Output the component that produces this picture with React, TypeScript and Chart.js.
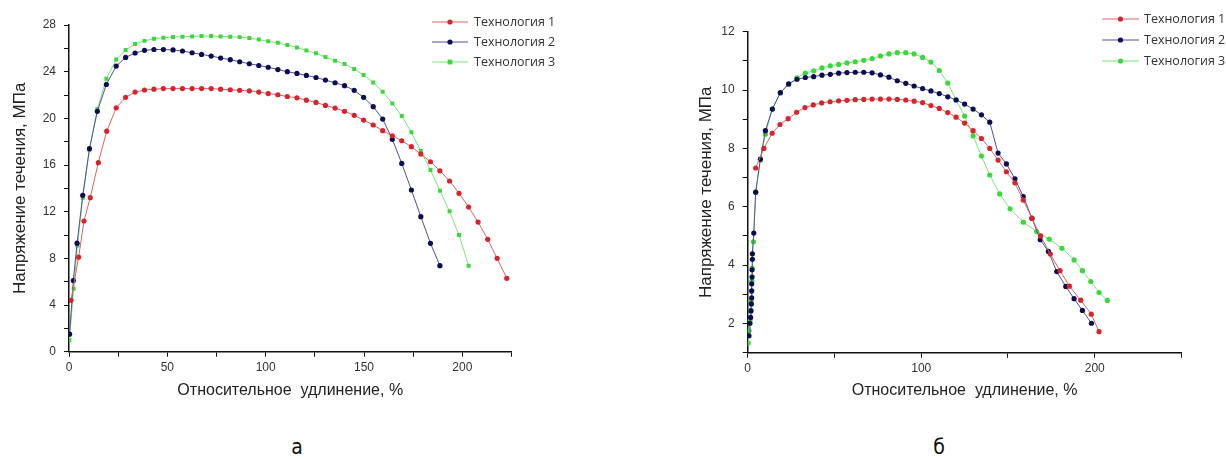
import React, { useEffect, useRef } from 'react';
import { Chart, registerables } from 'chart.js';

Chart.register(...registerables);

// ---------- Data ----------
const seriesLabels = ['Технология 1', 'Технология 2', 'Технология 3'];

// Chart "а"
const aRedX = [1.0, 4.9, 7.6, 10.8, 14.9, 19.2, 24.0, 28.8, 33.6, 38.4, 43.2, 48.0, 52.9, 57.7, 62.6, 67.4, 72.3, 77.1, 82.0, 86.8, 91.7, 96.5, 101.3, 106.2, 111.0, 115.9, 120.7, 125.6, 130.4, 135.3, 140.1, 145.0, 149.8, 154.7, 159.5, 164.4, 169.2, 174.1, 178.9, 183.8, 188.6, 193.5, 198.3, 203.2, 208.0, 212.9, 217.7, 222.6];
const aRedY = [4.4, 8.1, 11.2, 13.2, 16.2, 18.9, 20.9, 21.8, 22.25, 22.43, 22.5, 22.55, 22.55, 22.55, 22.55, 22.55, 22.55, 22.5, 22.45, 22.4, 22.35, 22.25, 22.12, 22.02, 21.87, 21.76, 21.56, 21.36, 21.11, 20.88, 20.6, 20.26, 19.85, 19.43, 18.94, 18.51, 18.08, 17.57, 16.94, 16.28, 15.51, 14.63, 13.57, 12.4, 11.11, 9.63, 8.0, 6.29];

const aBlueX = [0.3, 2.2, 4.1, 7.0, 10.4, 14.4, 19.0, 24.0, 28.8, 33.6, 38.4, 43.2, 48.0, 52.9, 57.7, 62.6, 67.4, 72.3, 77.1, 82.0, 86.8, 91.7, 96.5, 101.3, 106.2, 111.0, 115.9, 120.7, 125.6, 130.4, 135.3, 140.1, 145.0, 149.8, 154.7, 159.5, 164.4, 169.2, 174.1, 178.9, 183.8, 188.6];
const aBlueY = [1.5, 6.1, 9.3, 13.4, 17.4, 20.6, 22.9, 24.48, 25.22, 25.6, 25.83, 25.9, 25.9, 25.86, 25.77, 25.62, 25.48, 25.34, 25.17, 25.03, 24.85, 24.68, 24.53, 24.38, 24.18, 24.0, 23.85, 23.68, 23.5, 23.28, 23.05, 22.8, 22.4, 21.8, 21.0, 19.94, 18.2, 16.14, 13.86, 11.57, 9.29, 7.37];

const aGreenX = [0.2, 2.4, 4.3, 7.0, 10.4, 14.4, 19.0, 24.0, 28.8, 33.6, 38.4, 43.2, 48.0, 52.9, 57.7, 62.6, 67.4, 72.3, 77.1, 82.0, 86.8, 91.7, 96.5, 101.3, 106.2, 111.0, 115.9, 120.7, 125.6, 130.4, 135.3, 140.1, 145.0, 149.8, 154.7, 159.5, 164.4, 169.2, 174.1, 178.9, 183.8, 188.6, 193.5, 198.3, 203.2];
const aGreenY = [1.0, 5.4, 9.1, 13.2, 17.3, 20.8, 23.4, 25.05, 25.85, 26.37, 26.64, 26.83, 26.91, 26.97, 27.0, 27.02, 27.05, 27.05, 27.02, 27.0, 26.96, 26.88, 26.75, 26.6, 26.47, 26.28, 26.08, 25.82, 25.57, 25.25, 24.94, 24.65, 24.22, 23.71, 23.08, 22.28, 21.28, 20.2, 18.8, 17.2, 15.57, 13.8, 12.03, 10.0, 7.37];

// Chart "б"
const bRedX = [4.6, 9.3, 14.1, 18.6, 23.3, 28.2, 33.0, 37.8, 42.6, 47.5, 52.4, 57.2, 62.0, 66.9, 71.7, 76.5, 81.4, 86.2, 91.1, 95.9, 100.8, 105.6, 110.4, 115.3, 120.1, 125.0, 129.9, 134.7, 139.5, 144.3, 149.1, 154.0, 158.8, 163.8, 168.8, 174.4, 180.0, 185.4, 191.9, 198.0, 202.5];
const bRedY = [7.33, 8.0, 8.52, 8.82, 9.02, 9.24, 9.4, 9.49, 9.56, 9.6, 9.63, 9.65, 9.67, 9.68, 9.69, 9.69, 9.69, 9.68, 9.66, 9.62, 9.57, 9.47, 9.37, 9.23, 9.07, 8.87, 8.61, 8.34, 8.0, 7.6, 7.2, 6.82, 6.23, 5.6, 5.0, 4.38, 3.81, 3.28, 2.8, 2.32, 1.72];

const bBlueX = [0.75, 1.3, 1.7, 1.9, 2.1, 2.3, 2.3, 2.3, 2.5, 2.5, 2.7, 2.7, 3.5, 4.6, 7.3, 10.2, 14.2, 18.8, 23.6, 28.4, 33.2, 38.0, 42.8, 47.6, 52.4, 57.2, 62.0, 66.9, 71.7, 76.5, 81.4, 86.2, 91.1, 95.9, 100.8, 105.6, 110.4, 115.3, 120.1, 125.0, 129.9, 134.7, 139.5, 144.3, 149.1, 154.0, 158.8, 163.8, 168.6, 173.3, 178.1, 183.3, 188.1, 192.9, 198.1];
const bBlueY = [1.58, 2.01, 2.21, 2.43, 2.67, 2.88, 3.12, 3.36, 3.59, 3.84, 4.2, 4.39, 5.1, 6.5, 7.63, 8.61, 9.35, 9.91, 10.21, 10.37, 10.43, 10.46, 10.51, 10.54, 10.58, 10.6, 10.61, 10.61, 10.59, 10.52, 10.44, 10.32, 10.23, 10.14, 10.05, 9.97, 9.88, 9.77, 9.66, 9.52, 9.35, 9.15, 8.9, 7.84, 7.47, 6.96, 6.35, 5.61, 4.87, 4.47, 3.78, 3.27, 2.85, 2.45, 2.01];

const bGreenX = [0.3, 0.8, 1.3, 1.7, 2.0, 2.2, 2.4, 2.6, 3.3, 4.6, 7.3, 10.2, 14.2, 18.8, 23.6, 28.4, 33.2, 38.0, 42.8, 47.6, 52.4, 57.2, 62.0, 66.9, 71.7, 76.5, 81.4, 86.2, 91.1, 95.9, 100.8, 105.6, 110.4, 115.3, 120.1, 125.0, 129.9, 134.7, 139.5, 145.2, 151.2, 158.9, 166.5, 173.8, 181.1, 188.1, 192.9, 197.7, 202.5, 207.3];
const bGreenY = [1.33, 1.75, 2.1, 2.45, 2.8, 3.1, 3.45, 3.9, 4.8, 6.5, 7.6, 8.49, 9.35, 9.9, 10.2, 10.42, 10.58, 10.66, 10.76, 10.83, 10.88, 10.93, 10.97, 11.02, 11.08, 11.17, 11.24, 11.28, 11.28, 11.24, 11.12, 10.96, 10.67, 10.24, 9.67, 9.11, 8.43, 7.74, 7.09, 6.44, 5.93, 5.47, 5.15, 4.89, 4.58, 4.18, 3.81, 3.44, 3.06, 2.79];

const xTitle = 'Относительное  удлинение, %';
const yTitle = 'Напряжение течения, МПа';
const captions = ['а', 'б'];

// ---------- Styling ----------
const FONT = '"Liberation Sans", Arial, Helvetica, sans-serif';
const LEGEND_FONT = '"Open Sans", "Liberation Sans", Arial, sans-serif';
const RED = { point: '#d7232c', line: '#e06363' };
const BLUE = { point: '#0c0c52', line: '#51518e' };
const GREEN = { point: '#3ad83a', line: '#79e679' };

type Series = { xs: number[]; ys: number[]; label: string; c: { point: string; line: string }; style: string };

function toPoints(xs: number[], ys: number[]) {
  return xs.map((x, i) => ({ x, y: ys[i] }));
}

function legendPlugin(id: string, x1: number, x2: number, textX: number, rows: number[]) {
  return {
    id,
    afterDraw(chart: any) {
      const ctx = chart.ctx;
      ctx.save();
      chart.data.datasets.forEach((ds: any, i: number) => {
        const y = rows[i];
        ctx.strokeStyle = ds.borderColor;
        ctx.lineWidth = 1;
        ctx.beginPath();
        ctx.moveTo(x1, y);
        ctx.lineTo(x2, y);
        ctx.stroke();
        ctx.fillStyle = ds.pointBackgroundColor;
        const mx = (x1 + x2) / 2;
        if (ds.pointStyle === 'rect') {
          ctx.fillRect(mx - 2.4, y - 2.4, 4.8, 4.8);
        } else {
          ctx.beginPath();
          ctx.arc(mx, y, 2.6, 0, Math.PI * 2);
          ctx.fill();
        }
        ctx.fillStyle = '#333';
        ctx.font = '12.5px ' + LEGEND_FONT;
        ctx.textBaseline = 'middle';
        ctx.textAlign = 'left';
        ctx.fillText(ds.label, textX, y);
      });
      ctx.restore();
    },
  };
}

type PanelProps = {
  width: number;
  height: number;
  series: Series[];
  xMax: number;
  xStep: number;
  xLabelEvery: number;
  yMin: number;
  yMax: number;
  yLabelEvery: number;
  padding: { left: number; right: number; top: number; bottom: number };
  yAxisWidth: number;
  xAxisHeight: number;
  yTitlePad: number;
  xTitlePad: number;
  legend: { x1: number; x2: number; textX: number; rows: number[] };
};

function Panel(p: PanelProps) {
  const ref = useRef<HTMLCanvasElement | null>(null);
  useEffect(() => {
    if (!ref.current) return;
    const tickFont = { family: FONT, size: 12 };
    const chart = new Chart(ref.current, {
      type: 'scatter',
      data: {
        datasets: p.series.map((s) => ({
          label: s.label,
          data: toPoints(s.xs, s.ys),
          showLine: true,
          borderColor: s.c.line,
          borderWidth: 1,
          pointBackgroundColor: s.c.point,
          pointBorderColor: s.c.point,
          pointBorderWidth: 0,
          pointRadius: s.style === 'rect' ? 2.8 : 2.6,
          pointStyle: s.style as any,
          tension: 0,
        })),
      },
      options: {
        animation: false,
        responsive: false,
        devicePixelRatio: 1,
        layout: { padding: p.padding },
        plugins: { legend: { display: false }, tooltip: { enabled: false } },
        scales: {
          x: {
            type: 'linear',
            min: 0,
            max: p.xMax,
            afterFit: (s: any) => {
              s.height = p.xAxisHeight;
            },
            ticks: {
              stepSize: p.xStep,
              autoSkip: false,
              maxRotation: 0,
              padding: 4,
              color: '#333',
              font: tickFont,
              callback: (v: any) => (Number(v) % p.xLabelEvery === 0 ? String(v) : ''),
            },
            grid: { display: true, drawOnChartArea: false, drawTicks: true, tickLength: 5, tickColor: '#111', color: '#111' },
            border: { display: true, color: '#111', width: 1.5 },
            title: {
              display: true,
              text: xTitle,
              color: '#222',
              font: { family: FONT, size: 16 },
              padding: { top: 0, bottom: p.xTitlePad },
            },
          },
          y: {
            type: 'linear',
            min: p.yMin,
            max: p.yMax,
            afterFit: (s: any) => {
              s.width = p.yAxisWidth;
            },
            ticks: {
              stepSize: p.yLabelEvery / 2,
              autoSkip: false,
              padding: 8,
              color: '#333',
              font: tickFont,
              callback: (v: any) => (Number(v) % p.yLabelEvery === 0 ? String(v) : ''),
            },
            grid: { display: true, drawOnChartArea: false, drawTicks: true, tickLength: 5, tickColor: '#111', color: '#111' },
            border: { display: true, color: '#111', width: 1.5 },
            title: {
              display: true,
              text: yTitle,
              color: '#222',
              font: { family: FONT, size: 17 },
              padding: { top: p.yTitlePad, bottom: 0 },
            },
          },
        },
      },
      plugins: [legendPlugin('legend-' + p.width, p.legend.x1, p.legend.x2, p.legend.textX, p.legend.rows)],
    } as any);
    return () => chart.destroy();
  }, []);
  return <canvas ref={ref} width={p.width} height={p.height} style={{ width: p.width, height: p.height, display: 'block' }} />;
}

const seriesA: Series[] = [
  { xs: aRedX, ys: aRedY, label: seriesLabels[0], c: RED, style: 'circle' },
  { xs: aBlueX, ys: aBlueY, label: seriesLabels[1], c: BLUE, style: 'circle' },
  { xs: aGreenX, ys: aGreenY, label: seriesLabels[2], c: GREEN, style: 'rect' },
];
const seriesB: Series[] = [
  { xs: bRedX, ys: bRedY, label: seriesLabels[0], c: RED, style: 'circle' },
  { xs: bBlueX, ys: bBlueY, label: seriesLabels[1], c: BLUE, style: 'circle' },
  { xs: bGreenX, ys: bGreenY, label: seriesLabels[2], c: GREEN, style: 'circle' },
];

export default function App() {
  const captionStyle: React.CSSProperties = {
    position: 'absolute',
    top: 432,
    fontFamily: '"Liberation Sans Narrow", "DejaVu Sans Condensed", "Open Sans", sans-serif',
    fontSize: 21,
    lineHeight: '30px',
    color: '#111',
    textAlign: 'center',
    width: 40,
  };
  return (
    <div style={{ position: 'absolute', left: 0, top: 0, width: 1226, height: 459, background: '#fff', overflow: 'hidden' }}>
      <div style={{ position: 'absolute', left: 0, top: 0 }}>
        <Panel
          width={600}
          height={420}
          series={seriesA}
          xMax={225}
          xStep={25}
          xLabelEvery={50}
          yMin={0}
          yMax={28}
          yLabelEvery={4}
          padding={{ left: 0, right: 88.5, top: 25, bottom: 0 }}
          yAxisWidth={69}
          xAxisHeight={68.3}
          yTitlePad={10}
          xTitlePad={20}
          legend={{ x1: 432, x2: 468, textX: 474, rows: [22, 42, 62] }}
        />
      </div>
      <div style={{ position: 'absolute', left: 600, top: 0 }}>
        <Panel
          width={626}
          height={420}
          series={seriesB}
          xMax={250}
          xStep={50}
          xLabelEvery={100}
          yMin={1}
          yMax={12}
          yLabelEvery={2}
          padding={{ left: 86, right: 44.5, top: 31.7, bottom: 0 }}
          yAxisWidth={61.7}
          xAxisHeight={67.3}
          yTitlePad={10}
          xTitlePad={20}
          legend={{ x1: 502, x2: 539, textX: 544, rows: [19, 40, 61] }}
        />
      </div>
      <div style={{ ...captionStyle, left: 297 - 20 }}>{captions[0]}</div>
      <div style={{ ...captionStyle, left: 939 - 20 }}>{captions[1]}</div>
    </div>
  );
}
